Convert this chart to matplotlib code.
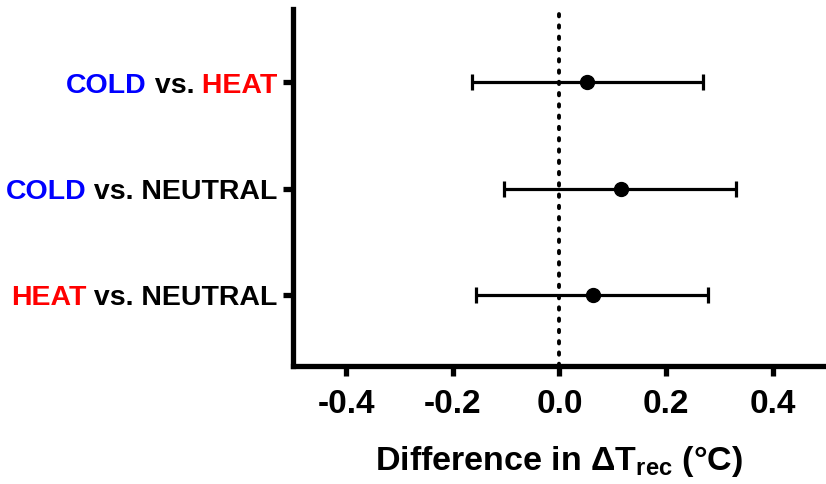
import matplotlib
matplotlib.use("Agg")
import matplotlib.pyplot as plt

plt.rcParams["font.family"] = ["Liberation Sans", "DejaVu Sans"]
plt.rcParams["font.weight"] = "bold"
plt.rcParams["mathtext.fontset"] = "custom"
plt.rcParams["mathtext.rm"] = "Liberation Sans:bold"
plt.rcParams["mathtext.bf"] = "Liberation Sans:bold"
plt.rcParams["mathtext.it"] = "Liberation Sans:bold"

# comparisons, top to bottom
comparisons = [
    [("COLD", "blue"), (" vs.", "black"), (" HEAT", "red")],
    [("COLD", "blue"), (" vs. NEUTRAL", "black")],
    [("HEAT", "red"), (" vs. NEUTRAL", "black")],
]
means = [0.052, 0.115, 0.062]
lower = [-0.165, -0.104, -0.156]
upper = [0.270, 0.331, 0.278]
xticks = [-0.4, -0.2, 0.0, 0.2, 0.4]

fig = plt.figure(figsize=(8.26, 4.85), dpi=100)
ax = fig.add_axes([0.3547, 0.2433, 0.6453, 0.7357])

ypos = [2, 1, 0]
xerr = [[m - l for m, l in zip(means, lower)], [u - m for m, u in zip(means, upper)]]
ax.axvline(0, color="black", ls=(0, (0.6, 2.3)), lw=2.8, dash_capstyle="round", zorder=1)
ax.errorbar(means, ypos, xerr=xerr, fmt="o", color="black", ms=10, elinewidth=2.3,
            capsize=5.5, capthick=2.3, zorder=3)

ax.set_xlim(-0.5, 0.5)
ax.set_ylim(-0.67, 2.69)
ax.set_xticks(xticks)
ax.set_xticklabels(["%.1f" % t for t in xticks], fontsize=24, fontweight="bold")
ax.set_yticks(ypos)
ax.set_yticklabels([])
for s in ["top", "right"]:
    ax.spines[s].set_visible(False)
for s in ["left", "bottom"]:
    ax.spines[s].set_linewidth(3.8)
ax.tick_params(axis="both", length=7, width=3.8, direction="out")
ax.tick_params(axis="x", pad=9)

# coloured y labels, built from the right end
for y, parts in zip(ypos, comparisons):
    prev = None
    for txt, col in reversed(parts):
        if prev is None:
            prev = ax.annotate(txt, xy=(0, y), xycoords=("axes fraction", "data"),
                               xytext=(-11, -1.5), textcoords="offset points",
                               ha="right", va="center", fontsize=20.5,
                               fontweight="bold", color=col)
        else:
            prev = ax.annotate(txt, xy=(0, 0), xycoords=prev, ha="right", va="bottom",
                               fontsize=20.5, fontweight="bold", color=col)

ax.set_xlabel(r"Difference in $\mathbf{\Delta T_{rec}}$ (°C)", fontsize=24.5,
              fontweight="bold", labelpad=17)

fig.savefig("out.png", dpi=100)
